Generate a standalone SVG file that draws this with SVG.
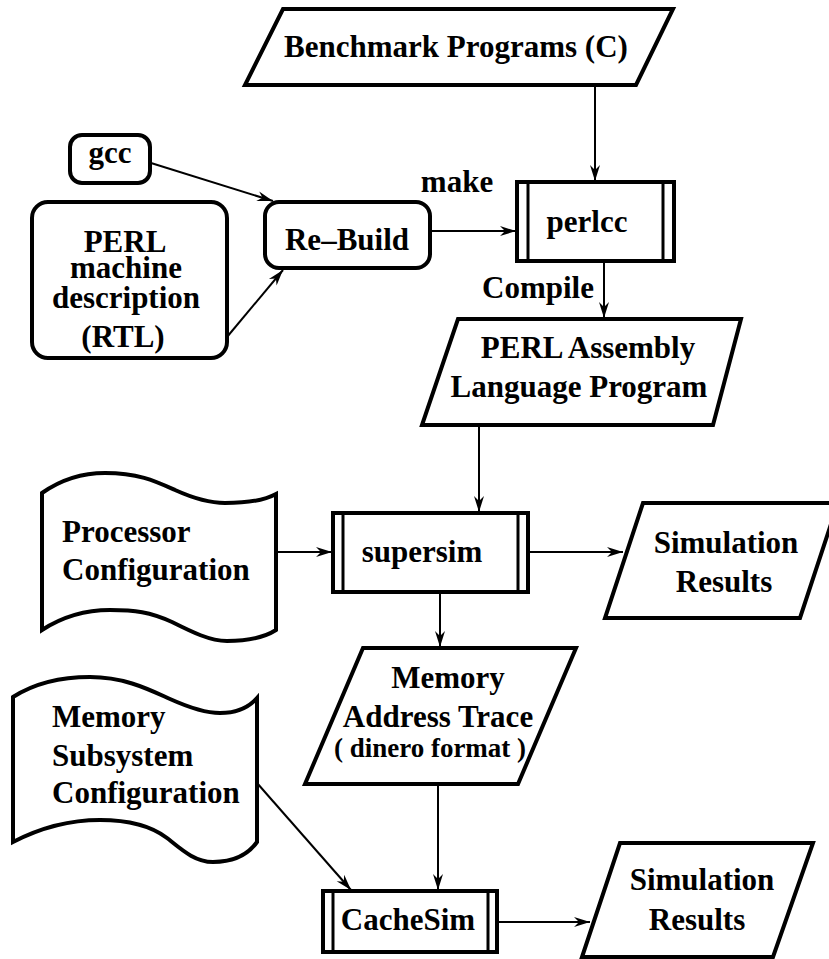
<svg xmlns="http://www.w3.org/2000/svg" width="829" height="959" viewBox="0 0 829 959">
  <style>
    .shape { fill: #fff; stroke: #000; stroke-width: 4; stroke-linejoin: miter; }
    .bar { stroke: #000; stroke-width: 3; }
    .conn { fill: none; stroke: #000; stroke-width: 2; marker-end: url(#arrow); }
    text { font-family: "Liberation Serif", "Times New Roman", serif; font-weight: bold; font-size: 31px; fill: #000; }
    .mid { text-anchor: middle; }
    .small { font-size: 27px; }
  </style>
  <defs>
    <marker id="arrow" viewBox="-17 -6 18 12" refX="0" refY="0" markerWidth="18" markerHeight="12" markerUnits="userSpaceOnUse" orient="auto">
      <path d="M0,0 L-16,-5 L-11,0 L-16,5 Z" fill="#000"/>
    </marker>
  </defs>

  <rect width="829" height="959" fill="#fff"/>

  <!-- connectors -->
  <g id="connectors">
    <line class="conn" x1="595" y1="86" x2="595" y2="181"/>
    <line class="conn" x1="151" y1="163" x2="273" y2="201"/>
    <line class="conn" x1="227" y1="337" x2="283" y2="270"/>
    <line class="conn" x1="431" y1="231" x2="516" y2="231"/>
    <line class="conn" x1="604" y1="262" x2="604" y2="318"/>
    <line class="conn" x1="479" y1="426" x2="479" y2="512"/>
    <line class="conn" x1="277" y1="552" x2="332" y2="552"/>
    <line class="conn" x1="529" y1="552" x2="623" y2="552"/>
    <line class="conn" x1="440" y1="593" x2="440" y2="647"/>
    <line class="conn" x1="438" y1="785" x2="438" y2="890"/>
    <line class="conn" x1="257" y1="783" x2="351" y2="890"/>
    <line class="conn" x1="498" y1="922" x2="590" y2="922"/>
    <text x="457" y="192" class="mid">make</text>
    <text x="482" y="298">Compile</text>
  </g>

  <!-- input: benchmark sources -->
  <g id="benchmark">
    <polygon class="shape" points="283,9 673,9 636,85 245,85"/>
    <text x="456" y="57" class="mid">Benchmark Programs (C)</text>
  </g>

  <g id="gcc">
    <rect class="shape" x="70" y="135" width="80" height="48" rx="12"/>
    <text x="110" y="163" class="mid">gcc</text>
  </g>

  <g id="machine-desc">
    <rect class="shape" x="32" y="202" width="195" height="156" rx="16"/>
    <text x="125" y="252" class="mid">PERL</text>
    <text x="126" y="278" class="mid">machine</text>
    <text x="126" y="308" class="mid">description</text>
    <text x="123" y="347" class="mid">(RTL)</text>
  </g>

  <g id="rebuild">
    <rect class="shape" x="265" y="202" width="165" height="66" rx="14"/>
    <text x="347" y="250" class="mid">Re–Build</text>
  </g>

  <!-- predefined processes (double-barred boxes) -->
  <g id="perlcc">
    <rect class="shape" x="517" y="182" width="157" height="79"/>
    <line class="bar" x1="528" y1="182" x2="528" y2="261"/>
    <line class="bar" x1="663" y1="182" x2="663" y2="261"/>
    <text x="587" y="232" class="mid">perlcc</text>
  </g>

  <g id="assembly">
    <polygon class="shape" points="458,319 741,319 713,425 422,425"/>
    <text x="588" y="358" class="mid">PERL Assembly</text>
    <text x="579" y="397" class="mid">Language Program</text>
  </g>

  <g id="processor-config">
    <path class="shape" d="M42,493 C62,479 85,473 105,473 C138,473 155,481 175,490 C195,499 210,503 225,503 C250,503 265,500 276,494 L276,630 C265,637 250,641 227,641 C210,641 192,632 172,622 C150,612 135,610 110,610 C85,610 62,617 42,630 Z"/>
    <text x="62" y="542">Processor</text>
    <text x="62" y="580">Configuration</text>
  </g>

  <g id="supersim">
    <rect class="shape" x="333" y="513" width="195" height="79"/>
    <line class="bar" x1="343" y1="513" x2="343" y2="592"/>
    <line class="bar" x1="518" y1="513" x2="518" y2="592"/>
    <text x="422" y="562" class="mid">supersim</text>
  </g>

  <g id="sim-results-1">
    <polygon class="shape" points="643,503 838,503 800,618 605,618"/>
    <text x="726" y="553" class="mid">Simulation</text>
    <text x="724" y="592" class="mid">Results</text>
  </g>

  <g id="address-trace">
    <polygon class="shape" points="363,648 576,648 518,784 305,784"/>
    <text x="448" y="688" class="mid">Memory</text>
    <text x="438" y="727" class="mid">Address Trace</text>
    <text x="430" y="757" class="mid small">( dinero format )</text>
  </g>

  <g id="memory-config">
    <path class="shape" d="M13,697 C35,683 60,677 90,677 C125,677 150,690 170,699 C190,708 205,713 220,713 C240,713 250,706 257,698 L257,842 C250,852 238,862 213,862 C195,862 182,850 167,838 C150,825 128,820 100,820 C70,820 40,828 13,842 Z"/>
    <text x="52" y="727">Memory</text>
    <text x="52" y="766">Subsystem</text>
    <text x="52" y="803">Configuration</text>
  </g>

  <g id="cachesim">
    <rect class="shape" x="323" y="891" width="174" height="61"/>
    <line class="bar" x1="333" y1="891" x2="333" y2="952"/>
    <line class="bar" x1="488" y1="891" x2="488" y2="952"/>
    <text x="408" y="930" class="mid">CacheSim</text>
  </g>

  <g id="sim-results-2">
    <polygon class="shape" points="620,843 813,843 773,957 582,957"/>
    <text x="702" y="890" class="mid">Simulation</text>
    <text x="697" y="930" class="mid">Results</text>
  </g>
</svg>
